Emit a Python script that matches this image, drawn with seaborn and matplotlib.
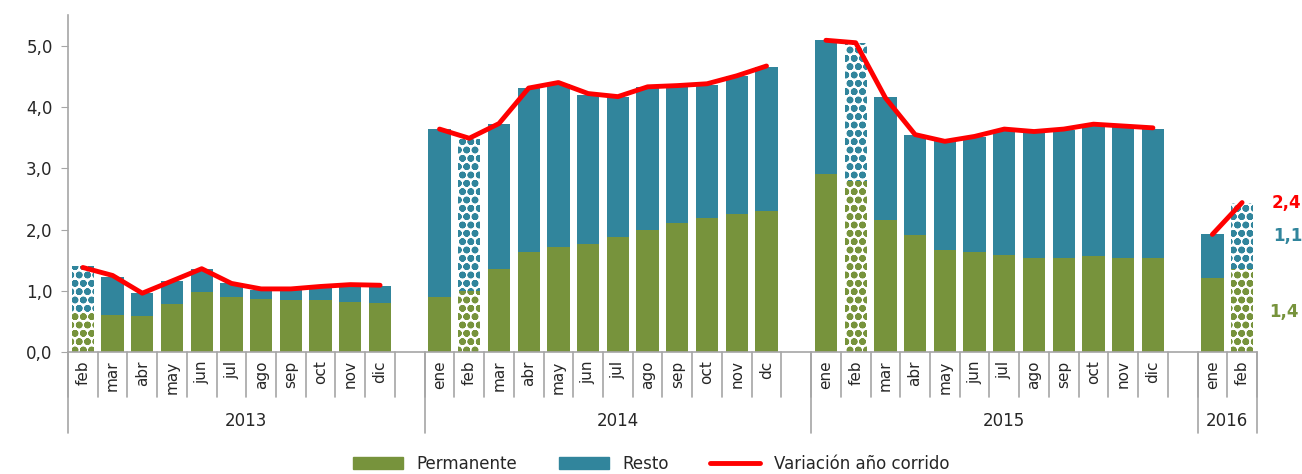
import numpy as np
import pandas as pd
import matplotlib.pyplot as plt
import seaborn as sns
from matplotlib.patches import Patch
from matplotlib.lines import Line2D
from matplotlib.ticker import FuncFormatter

sns.set_style("white")
plt.rcParams["font.family"] = ["DejaVu Sans"]
plt.rcParams["hatch.linewidth"] = 2.4

# data
years = ["2013", "2014", "2015", "2016"]
months_2013 = ["feb", "mar", "abr", "may", "jun", "jul", "ago", "sep", "oct", "nov", "dic"]
months_2014 = ["ene", "feb", "mar", "abr", "may", "jun", "jul", "ago", "sep", "oct", "nov", "dc"]
months_2015 = ["ene", "feb", "mar", "abr", "may", "jun", "jul", "ago", "sep", "oct", "nov", "dic"]
months_2016 = ["ene", "feb"]

total_2013 = [1.40, 1.23, 0.97, 1.16, 1.36, 1.12, 1.02, 1.02, 1.09, 1.11, 1.07]
total_2014 = [3.64, 3.48, 3.73, 4.31, 4.37, 4.20, 4.16, 4.33, 4.33, 4.36, 4.51, 4.65]
total_2015 = [5.09, 5.05, 4.17, 3.55, 3.44, 3.51, 3.63, 3.59, 3.63, 3.72, 3.67, 3.64]
total_2016 = [1.92, 2.44]

perm_2013 = [0.66, 0.60, 0.58, 0.78, 0.98, 0.89, 0.87, 0.85, 0.85, 0.82, 0.80]
perm_2014 = [0.89, 1.00, 1.36, 1.63, 1.72, 1.77, 1.88, 2.00, 2.10, 2.19, 2.26, 2.30]
perm_2015 = [2.91, 2.80, 2.15, 1.91, 1.66, 1.63, 1.59, 1.54, 1.54, 1.56, 1.54, 1.53]
perm_2016 = [1.21, 1.35]

var_2013 = [1.38, 1.25, 0.96, 1.16, 1.36, 1.12, 1.03, 1.03, 1.07, 1.10, 1.09]
var_2014 = [3.64, 3.49, 3.73, 4.31, 4.40, 4.22, 4.17, 4.33, 4.35, 4.38, 4.51, 4.67]
var_2015 = [5.09, 5.05, 4.15, 3.55, 3.44, 3.52, 3.64, 3.60, 3.64, 3.72, 3.69, 3.66]
var_2016 = [1.92, 2.44]

GREEN = "#77933C"
TEAL = "#31859C"
RED = "#FF0000"
GRAY = "#A6A6A6"

groups = [
    ("2013", months_2013, total_2013, perm_2013, var_2013),
    ("2014", months_2014, total_2014, perm_2014, var_2014),
    ("2015", months_2015, total_2015, perm_2015, var_2015),
    ("2016", months_2016, total_2016, perm_2016, var_2016),
]

rows = []
pos = 0
spans = []
for year, months, tot, perm, var in groups:
    start = pos
    for m, t, p, v in zip(months, tot, perm, var):
        rows.append({"year": year, "month": m, "pos": pos, "total": t, "perm": p, "var": v})
        pos += 1
    spans.append((year, start, pos - 1))
    pos += 1  # empty slot between years
df = pd.DataFrame(rows)
last_pos = df["pos"].max()

fig, ax = plt.subplots(figsize=(13.02, 4.74), dpi=100)
fig.subplots_adjust(left=0.0522, right=0.9654, top=0.968, bottom=0.2574)

sns.barplot(data=df, x="pos", y="total", native_scale=True, color=TEAL,
            saturation=1, width=0.75, linewidth=0, ax=ax)
sns.barplot(data=df, x="pos", y="perm", native_scale=True, color=GREEN,
            saturation=1, width=0.75, linewidth=0, ax=ax)

# february bars are drawn with a pattern
feb_pos = set(df.loc[df["month"] == "feb", "pos"])
for cont, col in zip(ax.containers, [TEAL, GREEN]):
    for bar in cont:
        c = int(round(bar.get_x() + bar.get_width() / 2))
        if c in feb_pos:
            bar.set_facecolor("white")
            bar.set_edgecolor(col)
            bar.set_linewidth(0)
            bar.set_hatch("oo")

sns.lineplot(data=df, x="pos", y="var", units="year", estimator=None,
             color=RED, linewidth=3.5, ax=ax, legend=False, zorder=5)

ax.set_xlim(-0.5, last_pos + 0.5)
ax.set_ylim(0, 5.5)
ax.set_yticks(np.arange(0, 5.01, 1.0))
ax.yaxis.set_major_formatter(FuncFormatter(lambda v, _: f"{v:.1f}".replace(".", ",")))
ax.tick_params(axis="y", which="both", left=True, length=5, color=GRAY, labelsize=12, pad=6)
ax.set_xticks([])
ax.set_xlabel("")
ax.set_ylabel("")
for s in ["top", "right", "bottom"]:
    ax.spines[s].set_visible(False)
ax.spines["left"].set_color(GRAY)
ax.spines["left"].set_linewidth(1.2)
ax.axhline(0, color=GRAY, lw=1.2, zorder=6, clip_on=False)

# two-level category axis
trans = ax.get_xaxis_transform()
short_y = -0.135
long_y = -0.24
for year, a, b in spans:
    for p in range(a, b + 2):
        x = p - 0.5
        ax.plot([x, x], [0, short_y], color=GRAY, lw=1.2, transform=trans, clip_on=False)
    ax.plot([a - 0.5, a - 0.5], [0, long_y], color=GRAY, lw=1.2, transform=trans, clip_on=False)
    ax.text((a + b + 1) / 2 if year != "2016" else (a + b) / 2, -0.205, year,
            transform=trans, ha="center", va="center", fontsize=12)
last = spans[-1]
ax.plot([last[2] + 0.5] * 2, [0, long_y], color=GRAY, lw=1.2, transform=trans, clip_on=False)

for _, r in df.iterrows():
    ax.text(r["pos"], -0.025, r["month"], transform=trans, rotation=90,
            ha="center", va="top", fontsize=11)

# labels on the last bar
ax.text(40.0, 2.44, "2,4", color=RED, fontsize=12, fontweight="bold", ha="left", va="center")
ax.text(40.05, 1.90, "1,1", color=TEAL, fontsize=12, fontweight="bold", ha="left", va="center")
ax.text(39.9, 0.65, "1,4", color=GREEN, fontsize=12, fontweight="bold", ha="left", va="center")

handles = [Patch(color=GREEN), Patch(color=TEAL), Line2D([], [], color=RED, lw=3.5)]
fig.legend(handles, ["Permanente", "Resto", "Variación año corrido"], loc="center",
           bbox_to_anchor=(0.5, 0.022), ncol=3, frameon=False, fontsize=12,
           handlelength=3, columnspacing=2.5)

fig.savefig("out.png", dpi=100)
